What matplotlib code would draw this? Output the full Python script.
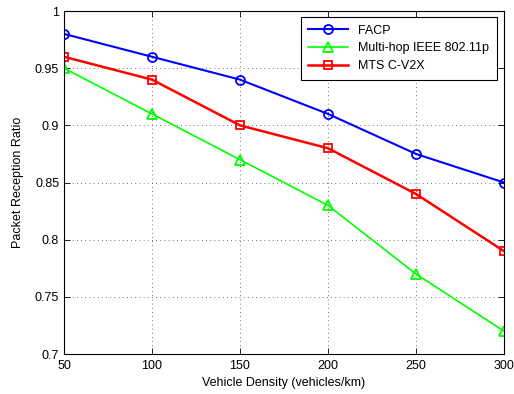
import matplotlib
matplotlib.use("Agg")
import matplotlib.pyplot as plt

# data
density = [50, 100, 150, 200, 250, 300]
facp = [0.98, 0.96, 0.94, 0.91, 0.875, 0.85]
multihop = [0.95, 0.91, 0.87, 0.83, 0.77, 0.72]
mts = [0.96, 0.94, 0.90, 0.88, 0.84, 0.79]

plt.rcParams['font.family'] = ['Liberation Sans', 'DejaVu Sans']
plt.rcParams['font.size'] = 9

fig = plt.figure(figsize=(5.14, 3.94), dpi=100)
ax = fig.add_axes([0.1245, 0.1015, 0.856, 0.8705])

ax.plot(density, facp, color="#0000ff", marker="o", mfc="none", ms=6.5, mew=1.3, lw=1.5, label="FACP")
ax.plot(density, multihop, color="#00ff00", marker="^", mfc="none", ms=6.5, mew=1.3, lw=1.2, label="Multi-hop IEEE 802.11p")
ax.plot(density, mts, color="#ff0000", marker="s", mfc="none", ms=6, mew=1.3, lw=1.8, label="MTS C-V2X")

ax.set_xlim(50, 300)
ax.set_ylim(0.7, 1.0)
ax.set_xticks(density)
ax.set_yticks([0.7, 0.75, 0.8, 0.85, 0.9, 0.95, 1.0])
ax.set_yticklabels(["0.7", "0.75", "0.8", "0.85", "0.9", "0.95", "1"])
ax.grid(True, linestyle=(0, (1, 4)), color="#444444", lw=0.6)
ax.tick_params(direction="in", top=True, right=True, length=4, width=0.6, labelsize=9)
ax.tick_params(axis="x", pad=4)
for s in ax.spines.values():
    s.set_linewidth(0.8)

ax.set_xlabel("Vehicle Density (vehicles/km)", fontsize=9, labelpad=4)
ax.set_ylabel("Packet Reception Ratio", fontsize=9, labelpad=8)

leg = ax.legend(loc="upper right", fancybox=False, edgecolor="black", framealpha=1,
                fontsize=9, handlelength=3.2, borderpad=0.6, labelspacing=0.45,
                bbox_to_anchor=(0.998, 1.0))
leg.get_frame().set_linewidth(0.8)

fig.savefig("out.png", dpi=100)
